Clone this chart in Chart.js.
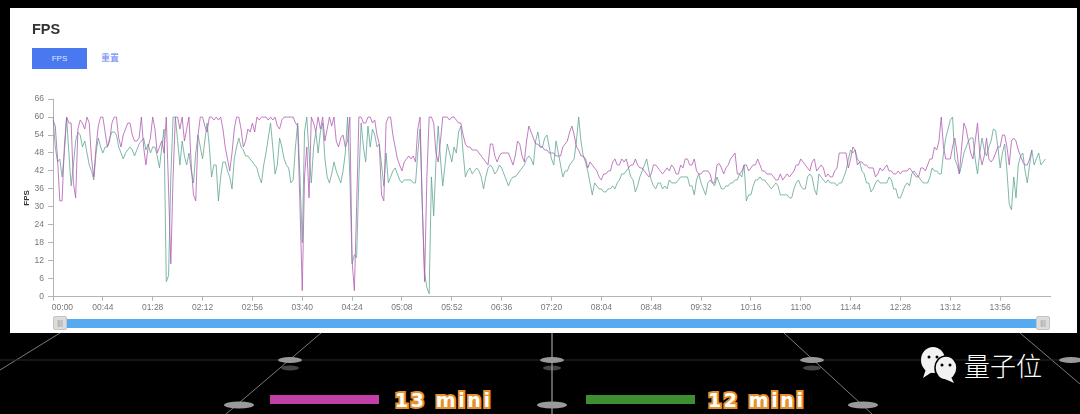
<!DOCTYPE html>
<html>
<head>
<meta charset="utf-8">
<title>FPS</title>
<script src="https://cdn.jsdelivr.net/npm/chart.js@4/dist/chart.umd.min.js"></script>
<style>
  html, body { margin: 0; padding: 0; width: 1080px; height: 414px; background: #000; overflow: hidden; }
  body { position: relative; font-family: "Liberation Sans", Arial, sans-serif; }
  #grid { position: absolute; left: 0; top: 0; filter: blur(0.7px); }
  #panel { position: absolute; left: 10px; top: 8px; width: 1067px; height: 325px; background: #fff; }
  #title { position: absolute; left: 32px; top: 20px; font-size: 14.5px; font-weight: bold; color: #333; line-height: 18px; filter: blur(0.3px); }
  #btn { position: absolute; left: 32px; top: 48px; width: 55px; height: 20.5px; background: #4a78f0; color: #dfe8ff; font-size: 8px; line-height: 21px; text-align: center; }
  #reset { position: absolute; left: 101px; top: 52px; font-size: 9px; line-height: 12px; color: #5f84f2; font-family: "Noto Sans CJK SC", sans-serif; }
  #fps { position: absolute; left: 10px; top: 90px; width: 1050px; height: 240px; filter: blur(0.45px); }
  #bar { position: absolute; left: 62px; top: 318.5px; width: 975px; height: 9.5px; background: #56aaf0; }
  .handle { position: absolute; top: 316px; width: 14px; height: 14px; background: #dcdcdc; border: 1px solid #c4c4c4; box-sizing: border-box; border-radius: 2px; color: #888; font-size: 7px; line-height: 12px; text-align: center; }
  .swatch { position: absolute; top: 395px; width: 109px; height: 9px; }
  .tag { position: absolute; top: 386px; font-family: "DejaVu Sans", sans-serif; font-weight: bold; font-size: 19px; line-height: 28px; letter-spacing: 2.6px; color: #fff; -webkit-text-stroke: 4px #e8902a; paint-order: stroke fill; white-space: nowrap; }
  #brand { position: absolute; left: 964px; top: 347px; font-family: "Noto Sans CJK SC", sans-serif; font-weight: 300; font-size: 26px; line-height: 36px; color: #fff; }
  #logo { position: absolute; left: 918px; top: 345px; }
</style>
</head>
<body>
<svg id="grid" width="1080" height="414" stroke="#7a7a7a" stroke-width="1" fill="none">
  <line x1="60" y1="333" x2="0" y2="370"/>
  <line x1="321" y1="333" x2="226" y2="414"/>
  <line x1="552" y1="333" x2="552" y2="414" stroke="#bbb"/>
  <line x1="784" y1="333" x2="872" y2="414"/>
  <line x1="1020" y1="333" x2="1080" y2="384"/>
  <line x1="0" y1="360" x2="1080" y2="360" stroke="#2a2a2a"/>
  <g fill="#9a9a9a" stroke="none">
    <ellipse cx="290" cy="360" rx="12" ry="3"/><ellipse cx="290" cy="368" rx="9" ry="2.5" opacity="0.45"/>
    <ellipse cx="552" cy="360" rx="12" ry="3"/><ellipse cx="552" cy="368" rx="9" ry="2.5" opacity="0.45"/>
    <ellipse cx="812" cy="360" rx="12" ry="3"/><ellipse cx="812" cy="368" rx="9" ry="2.5" opacity="0.45"/>
    <ellipse cx="1071" cy="360" rx="12" ry="3"/>
    <ellipse cx="239" cy="405" rx="15" ry="3.5"/>
    <ellipse cx="552" cy="405" rx="15" ry="3.5"/>
    <ellipse cx="863" cy="405" rx="15" ry="3.5"/>
  </g>
</svg>

<div id="panel"></div>
<div id="title">FPS</div>
<div id="btn">FPS</div>
<div id="reset">重置</div>
<canvas id="fps" width="1050" height="240"></canvas>
<div id="bar"></div>
<div class="handle" style="left:53px">|||</div>
<div class="handle" style="left:1036px">|||</div>

<div class="swatch" style="left:270px;background:#c040a8"></div>
<div class="tag" style="left:395px">13 mini</div>
<div class="swatch" style="left:586px;background:#3f8f30"></div>
<div class="tag" style="left:708px">12 mini</div>

<svg id="logo" width="44" height="40" fill="#f2f2f2">
  <ellipse cx="15" cy="15" rx="12" ry="13"/>
  <path d="M8 24 L5 33 L14 27 Z"/>
  <ellipse cx="28" cy="23" rx="11" ry="12" stroke="#000" stroke-width="1.5"/>
  <path d="M33 32 L36 38 L27 34 Z"/>
  <circle cx="11" cy="12" r="1.5" fill="#000"/><circle cx="19" cy="12" r="1.5" fill="#000"/>
  <circle cx="24" cy="20" r="1.5" fill="#000"/><circle cx="32" cy="20" r="1.5" fill="#000"/>
</svg>
<div id="brand">量子位</div>

<script>
// one sample every 2 seconds
const SAMPLE_SECONDS = 2;
const TOTAL_SAMPLES = 441;

const mini13 = [
  59, 57, 46, 32, 32, 50, 60, 58, 58, 38, 33, 56, 59, 58, 56, 60, 58, 46, 40, 50,
  57, 60, 60, 55, 50, 52, 58, 60, 60, 53, 50, 54, 56, 58, 58, 54, 52, 52, 53, 60,
  50, 44, 50, 53, 60, 56, 48, 50, 52, 48, 60, 36, 11, 40, 60, 60, 56, 60, 52, 56,
  60, 44, 34, 32, 54, 60, 60, 57, 55, 60, 60, 59, 60, 59, 60, 56, 50, 46, 42, 48,
  56, 60, 60, 56, 50, 52, 56, 55, 58, 55, 60, 59, 60, 60, 60, 59, 60, 59, 60, 57,
  56, 59, 60, 60, 60, 60, 60, 58, 57, 30, 2, 40, 50, 33, 60, 58, 55, 60, 56, 60,
  52, 56, 60, 57, 60, 52, 50, 53, 54, 50, 52, 60, 12, 2, 30, 60, 60, 58, 58, 60,
  60, 58, 59, 54, 51, 34, 32, 58, 60, 60, 54, 50, 46, 44, 42, 45, 46, 47, 46, 47,
  45, 56, 60, 30, 5, 40, 60, 60, 58, 48, 45, 52, 60, 60, 60, 59, 60, 60, 59, 58,
  58, 54, 51, 50, 50, 49, 49, 49, 48, 47, 46, 45, 44, 51, 51, 47, 45, 47, 48, 48,
  48, 48, 46, 44, 47, 52, 51, 47, 45, 52, 57, 55, 53, 51, 51, 50, 50, 49, 49, 48,
  48, 48, 47, 47, 47, 50, 51, 52, 55, 57, 54, 50, 49, 47, 47, 46, 43, 45, 44, 43,
  42, 40, 39, 41, 41, 42, 42, 45, 46, 44, 44, 46, 45, 46, 43, 44, 44, 46, 44, 43,
  43, 42, 41, 40, 41, 44, 44, 43, 42, 41, 42, 43, 42, 44, 43, 41, 41, 44, 43, 46,
  46, 44, 44, 46, 42, 41, 41, 42, 42, 42, 41, 38, 38, 44, 44.5, 43, 41, 43, 44, 46,
  47, 48, 41, 41, 42, 44, 44, 42, 43, 44, 44, 46, 44, 42, 42, 41, 41, 41, 40, 39,
  39, 41, 39, 40, 41, 40, 41, 42, 44, 44, 46, 45, 44, 43, 42, 45, 46, 42, 43, 44,
  43, 40, 41, 40, 40, 42, 43, 48, 48, 48, 48, 43, 46, 50, 49, 44, 45, 45, 44, 44,
  43, 43, 43, 40, 41, 43, 42, 43, 44, 42, 42, 41, 41, 42, 41, 42, 42, 42, 43, 42,
  41, 40, 40, 43, 43, 42, 44, 46, 46, 50, 49, 52, 60, 50, 46, 46, 46, 50, 53, 48,
  41, 50, 58, 56, 52, 48, 46, 52, 58, 48, 44, 47, 53, 46, 45, 46, 48, 50, 50, 54,
  54, 50, 44, 52, 53, 52, 49, 47, 45, 44, 44, 46, 49
];

const mini12 = [
  60, 50, 45, 46, 40, 48, 60, 48, 37, 44, 52, 55, 54, 50, 52, 48, 44, 42, 39, 48,
  53, 50, 48, 50, 50, 53, 55, 55, 54, 50, 48, 46, 48, 49, 50, 49, 47, 49, 51, 52,
  53, 49, 51, 48, 50, 50, 47, 43, 50, 56, 5, 7, 40, 60, 60, 52, 44, 52, 47, 44,
  48, 42, 38, 48, 54, 50, 46, 52, 58, 50, 40, 44, 44, 32, 40, 45, 45, 42, 40, 36,
  46, 50, 53, 50, 49, 47, 47, 46, 45, 44, 43, 40, 38, 44, 48, 53, 58, 50, 41, 44,
  53, 50, 46, 44, 43, 38, 39, 50, 58, 40, 18, 55, 60, 48, 38, 50, 55, 48, 55, 58,
  46, 40, 38, 41, 45, 42, 40, 38, 42, 48, 60, 40, 11, 14, 13, 40, 58, 50, 45, 57,
  50, 56, 54, 50, 51, 44, 37, 48, 38, 40, 42, 43, 41, 39, 38, 39, 39, 39, 39, 38,
  38, 48, 56, 30, 8, 3, 1, 40, 27, 45, 57, 46, 37, 44, 51, 48, 45, 50, 48, 55,
  57, 48, 40, 42, 43, 41, 42, 43, 42, 40, 36, 40, 43, 44, 43, 41, 42, 44, 43, 41,
  39, 37, 39, 40, 40, 41, 42, 43, 44, 46, 47, 46, 44, 52, 55, 50, 50, 53, 54, 50,
  46, 44, 52, 48, 44, 40, 42, 42, 44, 45, 46, 52, 60, 52, 47, 45, 42, 38, 34, 38,
  37, 36, 36, 35, 35, 36, 36, 37, 36, 38, 39, 41, 41, 42, 43, 40, 39, 35, 37, 40,
  42, 44, 46, 42, 39, 37, 36, 38, 38, 36, 37, 36, 39, 38, 38, 38, 39, 40, 40, 40,
  40, 37, 37, 34, 39, 41, 38, 36, 34, 38, 39, 38, 37, 40, 38, 36, 36, 37, 37, 38,
  38, 39, 39, 41, 40, 44, 32, 34, 34, 37, 39, 39, 40, 39, 39, 38, 37, 36, 37, 38,
  37, 34, 34, 34, 34, 33, 33, 36, 38, 39, 37, 36, 36, 40, 41, 40, 36, 34, 41, 40,
  39, 38, 39, 38, 38, 38, 37, 38, 38, 40, 42, 46, 49, 48, 49, 46, 45, 42, 41, 38,
  38, 35, 36, 38, 39, 38, 38, 38, 38, 40, 39, 36, 36, 33, 33, 35, 37, 38, 37, 41,
  42, 41, 40, 39, 38, 38, 38, 40, 43, 42, 42, 41, 41, 48, 53, 56, 59, 60, 46, 44,
  41, 44, 48, 50, 52, 53, 53, 46, 41, 48, 53, 49, 47, 50, 52, 56, 55.5, 50, 43, 48,
  51, 42, 31, 29, 40, 33, 44, 47, 48, 42, 38, 44, 49, 44, 46, 48, 44, 45, 46
];

const yMax = 66;
const yStep = 6;
const tickEvery = 22; // 44 seconds
const lastTick = 418; // 13:56

function clock(i) {
  const s = i * SAMPLE_SECONDS;
  return String(Math.floor(s / 60)).padStart(2, '0') + ':' + String(s % 60).padStart(2, '0');
}
const times = Array.from({ length: TOTAL_SAMPLES }, (_, i) => clock(i));

const axisGrey = '#b4b4b4';
const tickFont = { family: '"Liberation Sans", Arial, sans-serif', size: 8.5 };

new Chart(document.getElementById('fps'), {
  type: 'line',
  data: {
    labels: times,
    datasets: [
      { label: '13 mini', data: mini13, borderColor: 'rgba(178,92,178,0.8)' },
      { label: '12 mini', data: mini12, borderColor: 'rgba(96,166,146,0.8)' }
    ]
  },
  options: {
    responsive: false,
    animation: false,
    devicePixelRatio: 1,
    layout: { padding: { top: 8.7, right: 10, left: 12, bottom: 0 } },
    elements: {
      point: { radius: 0 },
      line: { borderWidth: 1, tension: 0 }
    },
    plugins: { legend: { display: false }, tooltip: { enabled: false } },
    scales: {
      x: {
        type: 'category',
        offset: false,
        border: { color: axisGrey },
        grid: { display: true, drawOnChartArea: false, drawTicks: true, tickLength: 4, color: axisGrey, offset: false },
        ticks: {
          autoSkip: false, maxRotation: 0, minRotation: 0, padding: 2,
          color: '#777', font: tickFont,
          // first label sits to the right of its tick in the original
          callback: function (v, i) {
            const t = this.getLabelForValue(v);
            return v === 0 ? '\u00a0'.repeat(8) + t : t;
          }
        },
        afterBuildTicks: s => { s.ticks = s.ticks.filter(t => t.value % tickEvery === 0 && t.value <= lastTick); },
        afterFit: s => { s.height = 33.3; }
      },
      y: {
        min: 0,
        max: yMax,
        border: { color: axisGrey },
        grid: { display: true, drawOnChartArea: false, tickLength: 5, color: axisGrey },
        ticks: { stepSize: yStep, padding: 4, color: '#777', font: tickFont },
        title: { display: true, text: 'FPS', color: '#333', font: { family: tickFont.family, size: 8, weight: 'bold' }, padding: { top: 0, bottom: 0 } },
        afterFit: s => { s.width = 31; }
      }
    }
  }
});
</script>
</body>
</html>
